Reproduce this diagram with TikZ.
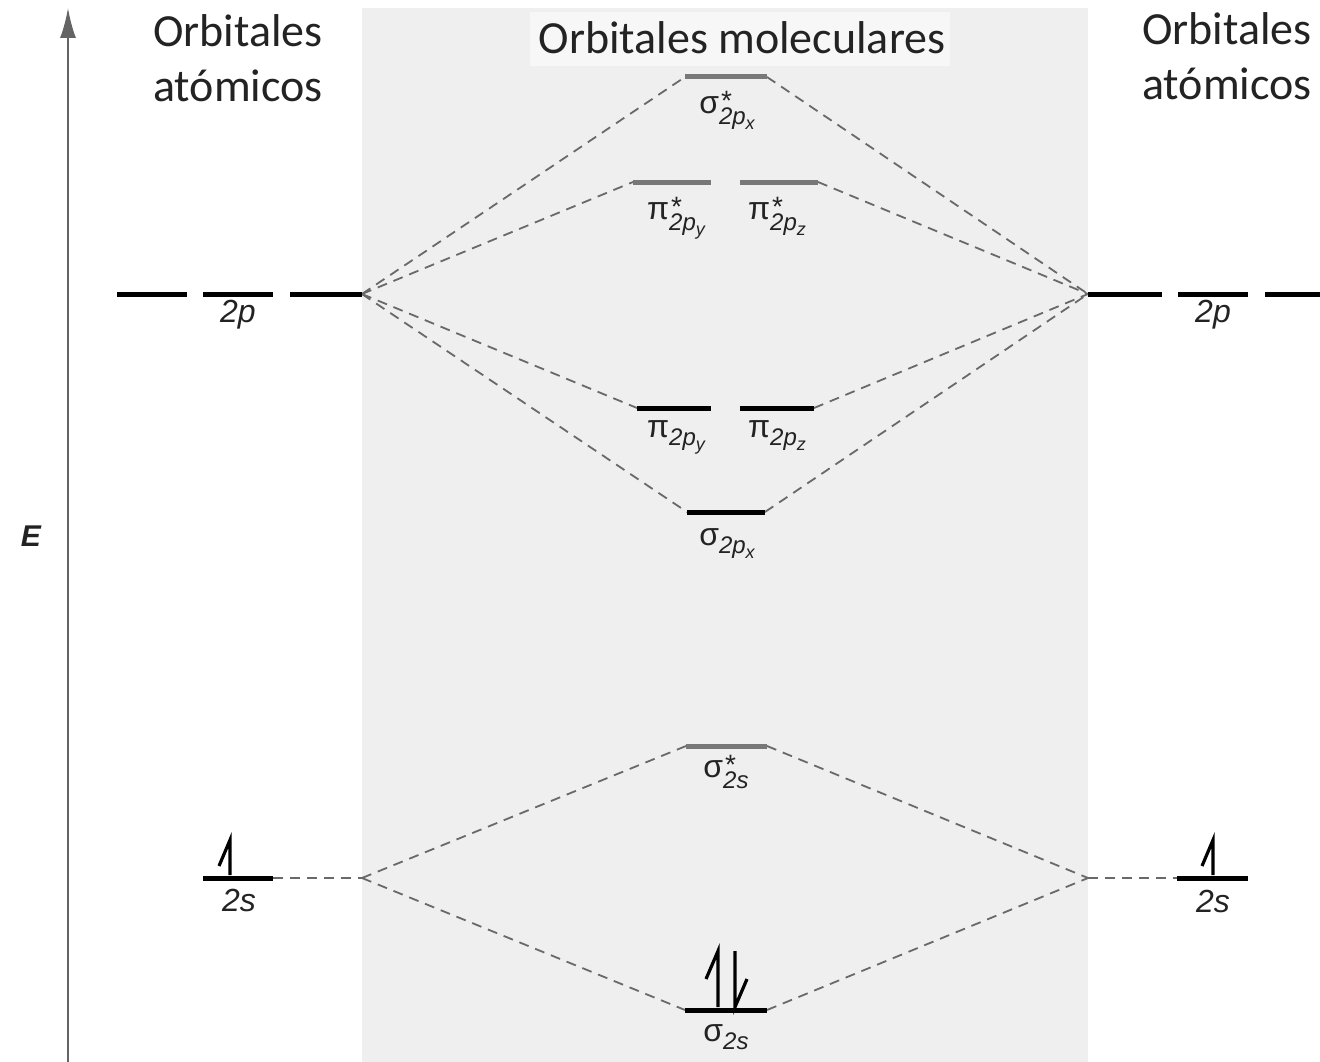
\documentclass[tikz,border=0pt]{standalone}
\usepackage{fontspec}
\setmainfont{Liberation Sans}
\newfontfamily\headfont{Carlito}
\usetikzlibrary{arrows.meta}
\definecolor{boxgray}{RGB}{239,239,239}
\definecolor{titlegray}{RGB}{247,247,247}
\definecolor{dashgray}{RGB}{105,105,105}
\definecolor{antigray}{RGB}{120,120,120}
\definecolor{axisgray}{RGB}{100,100,100}
\definecolor{txt}{RGB}{35,35,35}
\newcommand\subA[1]{\raisebox{-8pt}{\fontsize{24}{24}\selectfont\itshape #1}}
\newcommand\subAs[1]{\raisebox{-11pt}{\fontsize{24}{24}\selectfont\itshape #1}}
\newcommand\subB[1]{\raisebox{-5pt}{\fontsize{18}{18}\selectfont\itshape #1}}
\newcommand\starA{\makebox[0pt][l]{\raisebox{3pt}{\fontsize{28}{28}\selectfont\kern2pt*}}}
% sigma/pi with 2p_x subscript
\newcommand\molab[3]{#1\subA{#2\subB{#3}}}
\newcommand\molabs[3]{#1\starA\subAs{#2\subB{#3}}}
\newcommand\molabsimple[2]{#1\subA{#2}}
\newcommand\molabsimples[2]{#1\starA\subAs{#2}}
\begin{document}
\begin{tikzpicture}[x=1pt,y=-1pt,
  conn/.style={draw=dashgray, line width=1.8pt, dash pattern=on 10pt off 7pt},
  bond/.style={draw=black, line width=5pt},
  anti/.style={draw=antigray, line width=5pt},
  elec/.style={draw=black, line width=3.2pt, line join=miter},
  lab/.style={font=\fontsize{32}{38}\selectfont, text=txt, inner sep=0pt, anchor=base},
  head/.style={font=\headfont\fontsize{46}{55}\selectfont, align=center, text=txt, inner sep=0pt}]
\useasboundingbox (0,0) rectangle (1320,1062);
\fill[white] (0,0) rectangle (1320,1062);
% molecular orbital panel
\fill[boxgray] (362,8) rectangle (1088,1062);
\fill[titlegray] (530,12) rectangle (950,66);
% energy axis
\draw[axisgray, line width=2pt, -{Latex[length=30pt,width=16pt]}] (68,1062) coordinate (axb) -- (68,8) coordinate (axt);
\node[font=\fontsize{30}{36}\selectfont\bfseries\itshape, text=txt] (E) at (31,536) {E};
% headings
\node[head] (hl) at (238,58) {Orbitales\\atómicos};
\node[head] (hr) at (1227,56) {Orbitales\\atómicos};
\node[head] (hm) at (742,38) {Orbitales moleculares};
% focus points
\coordinate (FL2p) at (362,294);
\coordinate (FR2p) at (1088,294);
\coordinate (FL2s) at (362,878);
\coordinate (FR2s) at (1088,878);
% orbital end points
\coordinate (L2pa1) at (117,294); \coordinate (L2pa2) at (187,294);
\coordinate (L2pb1) at (203,294); \coordinate (L2pb2) at (273,294);
\coordinate (L2pc1) at (290,294);
\coordinate (R2pa2) at (1162,294);
\coordinate (R2pb1) at (1178,294); \coordinate (R2pb2) at (1248,294);
\coordinate (R2pc1) at (1265,294); \coordinate (R2pc2) at (1320,294);
\coordinate (L2s1) at (203,878); \coordinate (L2s2) at (273,878);
\coordinate (R2s1) at (1177,878); \coordinate (R2s2) at (1248,878);
\coordinate (ss1) at (686,746); \coordinate (ss2) at (767,746);
\coordinate (s1) at (685,1010); \coordinate (s2) at (767,1010);
\coordinate (sp1) at (685,77); \coordinate (sp2) at (767,77);
\coordinate (pys1) at (633,182); \coordinate (pys2) at (711,182);
\coordinate (pzs1) at (740,182); \coordinate (pzs2) at (818,182);
\coordinate (py1) at (637,408); \coordinate (py2) at (711,408);
\coordinate (pz1) at (740,408); \coordinate (pz2) at (814,408);
\coordinate (sx1) at (687,512); \coordinate (sx2) at (765,512);
% dashed correlation lines
\draw[conn] (L2s2) -- (FL2s);
\draw[conn] (FL2s) -- (ss1);
\draw[conn] (FL2s) -- (s1);
\draw[conn] (ss2) -- (FR2s);
\draw[conn] (s2) -- (FR2s);
\draw[conn] (FR2s) -- (R2s1);
\draw[conn] (FL2p) -- (sp1);
\draw[conn] (FL2p) -- (pys1);
\draw[conn] (FL2p) -- (py1);
\draw[conn] (FL2p) -- (sx1);
\draw[conn] (sp2) -- (FR2p);
\draw[conn] (pzs2) -- (FR2p);
\draw[conn] (pz2) -- (FR2p);
\draw[conn] (sx2) -- (FR2p);
% atomic orbitals
\draw[bond] (L2pa1) -- (L2pa2);
\draw[bond] (L2pb1) -- (L2pb2);
\draw[bond] (L2pc1) -- (FL2p);
\draw[bond] (FR2p) -- (R2pa2);
\draw[bond] (R2pb1) -- (R2pb2);
\draw[bond] (R2pc1) -- (R2pc2);
\draw[bond] (L2s1) -- (L2s2);
\draw[bond] (R2s1) -- (R2s2);
% molecular orbitals
\draw[anti] (sp1) -- (sp2);
\draw[anti] (pys1) -- (pys2);
\draw[anti] (pzs1) -- (pzs2);
\draw[bond] (py1) -- (py2);
\draw[bond] (pz1) -- (pz2);
\draw[bond] (sx1) -- (sx2);
\draw[anti] (ss1) -- (ss2);
\draw[bond] (s1) -- (s2);
% labels
\node[lab] (l2pL) at (238,322) {\itshape 2p};
\node[lab] (l2pR) at (1213,322) {\itshape 2p};
\node[lab] (l2sL) at (239,911) {\itshape 2s};
\node[lab] (l2sR) at (1213,912) {\itshape 2s};
\node[lab] (lsp) at (727,114) {\molabs{σ}{2p}{x}};
\node[lab] (lpys) at (676,219) {\molabs{π}{2p}{y}};
\node[lab] (lpzs) at (777,219) {\molabs{π}{2p}{z}};
\node[lab] (lpy) at (676,437) {\molab{π}{2p}{y}};
\node[lab] (lpz) at (777,437) {\molab{π}{2p}{z}};
\node[lab] (lsx) at (727,545) {\molab{σ}{2p}{x}};
\node[lab] (lss) at (726,777) {\molabsimples{σ}{2s}};
\node[lab] (ls) at (726,1041) {\molabsimple{σ}{2s}};
% electrons
\draw[elec] (230,875) -- (230,840) -- (219,866);
\draw[elec] (1213,875) -- (1213,840) -- (1202,866);
\draw[elec] (718,1007) -- (718,951) -- (706,979);
\draw[elec] (735,951) -- (735,1007) -- (747,979);
\end{tikzpicture}
\end{document}
